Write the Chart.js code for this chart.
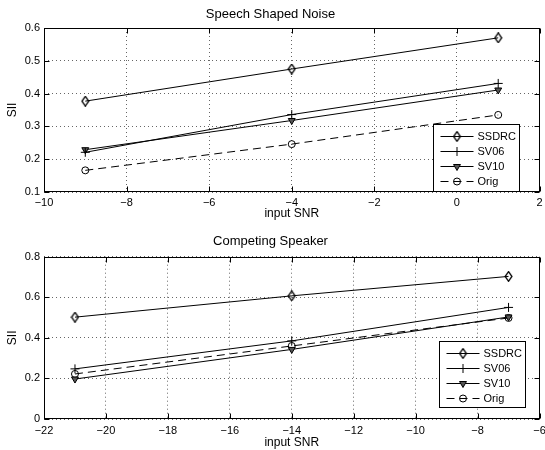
<!DOCTYPE html>
<html><head><meta charset="utf-8">
<script src="https://cdn.jsdelivr.net/npm/chart.js@4/dist/chart.umd.min.js"></script>
<style>
html,body{margin:0;padding:0;background:#fff;}
#wrap{position:relative;width:545px;height:450px;background:#fff;}
canvas{position:absolute;left:0;}
</style></head><body>
<div id="wrap">
<canvas id="c1" width="545" height="225" style="top:0"></canvas>
<canvas id="c2" width="545" height="225" style="top:225px"></canvas>
</div>
<script>
// ---- data ----
const seriesNames = ['SSDRC', 'SV06', 'SV10', 'Orig'];

const noiseTitle = 'Speech Shaped Noise';
const noiseSNR = [-9, -4, 1];
const noiseSSDRC = [0.377, 0.475, 0.570];
const noiseSV06 = [0.221, 0.336, 0.431];
const noiseSV10 = [0.229, 0.318, 0.411];
const noiseOrig = [0.166, 0.246, 0.335];
const noiseXTicks = [-10, -8, -6, -4, -2, 0, 2];
const noiseYTicks = [0.1, 0.2, 0.3, 0.4, 0.5, 0.6];

const compTitle = 'Competing Speaker';
const compSNR = [-21, -14, -7];
const compSSDRC = [0.502, 0.607, 0.703];
const compSV06 = [0.247, 0.385, 0.550];
const compSV10 = [0.197, 0.343, 0.503];
const compOrig = [0.222, 0.360, 0.498];
const compXTicks = [-22, -20, -18, -16, -14, -12, -10, -8, -6];
const compYTicks = [0, 0.2, 0.4, 0.6, 0.8];

const xLabel = 'input SNR';
const yLabel = 'SII';

// ---- styles ----
const FONT = "'Liberation Sans', Arial, Helvetica, sans-serif";
Chart.defaults.font.family = FONT;
Chart.defaults.color = '#000';

// tall MATLAB-like diamond marker
const diamond = document.createElement('canvas');
diamond.width = 9; diamond.height = 11;
(function () {
  const c = diamond.getContext('2d');
  c.strokeStyle = '#000'; c.lineWidth = 1.3;
  c.beginPath();
  c.moveTo(4.5, 0.7); c.lineTo(7.9, 5.5); c.lineTo(4.5, 10.3); c.lineTo(1.1, 5.5); c.closePath();
  c.stroke();
})();

const seriesStyles = [
  { pointStyle: diamond, pointRadius: 4.5, rotation: 0, fill: 'rgba(0,0,0,0)', dash: [] },
  { pointStyle: 'cross', pointRadius: 4.5, rotation: 0, fill: 'rgba(0,0,0,0)', dash: [] },
  { pointStyle: 'triangle', pointRadius: 4, rotation: 180, fill: '#555', dash: [] },
  { pointStyle: 'circle', pointRadius: 3.5, rotation: 0, fill: 'rgba(0,0,0,0)', dash: [8, 5] }
];

function makeDatasets(xs, seriesList) {
  return seriesList.map((vals, i) => {
    const s = seriesStyles[i];
    return {
      label: seriesNames[i],
      data: xs.map((x, j) => ({ x: x, y: vals[j] })),
      borderColor: '#000',
      borderWidth: 1,
      borderDash: s.dash,
      pointStyle: s.pointStyle,
      pointRadius: s.pointRadius,
      pointRotation: s.rotation,
      pointBackgroundColor: s.fill,
      pointBorderColor: '#000',
      pointBorderWidth: 1,
      pointHoverRadius: s.pointRadius,
      tension: 0,
      fill: false
    };
  });
}

function drawMarker(ctx, ds, x, y) {
  ctx.save();
  ctx.setLineDash([]);
  ctx.strokeStyle = '#000';
  ctx.fillStyle = ds.pointBackgroundColor;
  ctx.lineWidth = 1;
  if (Chart.helpers && Chart.helpers.drawPoint) {
    Chart.helpers.drawPoint(ctx, {
      pointStyle: ds.pointStyle, radius: ds.pointRadius,
      rotation: ds.pointRotation, borderWidth: 1
    }, x, y);
  } else if (ds.pointStyle instanceof HTMLCanvasElement) {
    ctx.drawImage(ds.pointStyle, x - ds.pointStyle.width / 2, y - ds.pointStyle.height / 2);
  } else {
    ctx.beginPath(); ctx.arc(x, y, ds.pointRadius, 0, Math.PI * 2); ctx.stroke();
  }
  ctx.restore();
}

const matlabFrame = {
  id: 'matlabFrame',
  afterDatasetsDraw(chart, args, opts) {
    const ctx = chart.ctx, a = chart.chartArea;
    const xs = chart.scales.x, ys = chart.scales.y;
    ctx.save();
    ctx.strokeStyle = '#000';
    ctx.lineWidth = 1;
    ctx.setLineDash([]);
    const L = Math.round(a.left) + 0.5, R = Math.round(a.right) - 0.5;
    const T = Math.round(a.top) + 0.5, B = Math.round(a.bottom) - 0.5;
    ctx.strokeRect(L, T, R - L, B - T);
    ctx.beginPath();
    xs.ticks.forEach(t => {
      const x = Math.round(xs.getPixelForValue(t.value)) + 0.5;
      ctx.moveTo(x, B); ctx.lineTo(x, B - 5);
      ctx.moveTo(x, T); ctx.lineTo(x, T + 5);
    });
    ys.ticks.forEach(t => {
      const y = Math.round(ys.getPixelForValue(t.value)) + 0.5;
      ctx.moveTo(L, y); ctx.lineTo(L + 5, y);
      ctx.moveTo(R, y); ctx.lineTo(R - 5, y);
    });
    ctx.stroke();

    // legend box
    const lg = opts;
    const bx = Math.round(a.right - lg.right - lg.width) + 0.5;
    const by = Math.round(a.bottom - lg.bottom - lg.height) + 0.5;
    ctx.fillStyle = '#fff';
    ctx.fillRect(bx, by, lg.width, lg.height);
    ctx.strokeRect(bx, by, lg.width, lg.height);
    chart.data.datasets.forEach((ds, i) => {
      const y = Math.round(by + lg.first + i * lg.step) + 0.5;
      ctx.save();
      ctx.strokeStyle = '#000';
      ctx.lineWidth = 1;
      ctx.setLineDash(ds.borderDash || []);
      ctx.beginPath();
      ctx.moveTo(bx + 7, y); ctx.lineTo(bx + 40, y);
      ctx.stroke();
      ctx.restore();
      drawMarker(ctx, ds, bx + 23.5, y);
      ctx.fillStyle = '#000';
      ctx.font = '11px ' + FONT;
      ctx.textBaseline = 'middle';
      ctx.textAlign = 'left';
      ctx.fillText(ds.label, bx + 44, y + 0.5);
    });
    ctx.restore();
  }
};

function fmtTick(v) {
  return String(v).replace('-', '\u2212');
}

function makeChart(id, cfg) {
  return new Chart(document.getElementById(id), {
    type: 'line',
    data: { datasets: makeDatasets(cfg.xs, cfg.series) },
    plugins: [matlabFrame],
    options: {
      responsive: false,
      animation: false,
      devicePixelRatio: 1,
      layout: { padding: { left: 0, right: 4, top: 0, bottom: 0 } },
      plugins: {
        legend: { display: false },
        tooltip: { enabled: false },
        title: {
          display: true, text: cfg.title, color: '#000',
          font: { size: 13, weight: 'normal' },
          padding: { top: cfg.titlePadTop, bottom: cfg.titlePadBottom }
        },
        matlabFrame: cfg.legend
      },
      scales: {
        x: {
          type: 'linear',
          min: cfg.xTicks[0], max: cfg.xTicks[cfg.xTicks.length - 1],
          afterBuildTicks: s => { s.ticks = cfg.xTicks.map(v => ({ value: v })); },
          afterFit: s => { s.height = cfg.xAxisHeight; s.paddingLeft = 0; s.paddingRight = 0; },
          grid: { color: 'rgba(0,0,0,0.6)', lineWidth: 1, drawTicks: false },
          border: { display: false, dash: [1, 3] },
          ticks: { padding: cfg.xTickPad, font: { size: 11 }, color: '#000', callback: v => fmtTick(v), maxRotation: 0, autoSkip: false },
          title: { display: true, text: xLabel, color: '#000', font: { size: 12 }, padding: { top: 0, bottom: cfg.xTitlePadBottom } }
        },
        y: {
          type: 'linear',
          min: cfg.yTicks[0], max: cfg.yTicks[cfg.yTicks.length - 1],
          afterBuildTicks: s => { s.ticks = cfg.yTicks.map(v => ({ value: v })); },
          afterFit: s => { s.width = 44; s.paddingTop = 0; s.paddingBottom = 0; },
          grid: { color: 'rgba(0,0,0,0.6)', lineWidth: 1, drawTicks: false },
          border: { display: false, dash: [1, 3] },
          ticks: { padding: 4, font: { size: 11 }, color: '#000', callback: v => fmtTick(v), autoSkip: false },
          title: { display: true, text: yLabel, color: '#000', font: { size: 12 }, padding: { top: 5.5, bottom: 0 } }
        }
      }
    }
  });
}

makeChart('c1', {
  title: noiseTitle,
  xs: noiseSNR,
  series: [noiseSSDRC, noiseSV06, noiseSV10, noiseOrig],
  xTicks: noiseXTicks, yTicks: noiseYTicks,
  titlePadTop: 6.7, titlePadBottom: 5.7,
  xAxisHeight: 33, xTickPad: 4, xTitlePadBottom: 3.8,
  legend: { right: 21, bottom: 1, width: 86, height: 67, first: 11, step: 15.2 }
});

makeChart('c2', {
  title: compTitle,
  xs: compSNR,
  series: [compSSDRC, compSV06, compSV10, compOrig],
  xTicks: compXTicks, yTicks: compYTicks,
  titlePadTop: 8.7, titlePadBottom: 7.4,
  xAxisHeight: 31, xTickPad: 5, xTitlePadBottom: 0,
  legend: { right: 15, bottom: 12, width: 86, height: 66, first: 11, step: 15.3 }
});
</script>
</body></html>
